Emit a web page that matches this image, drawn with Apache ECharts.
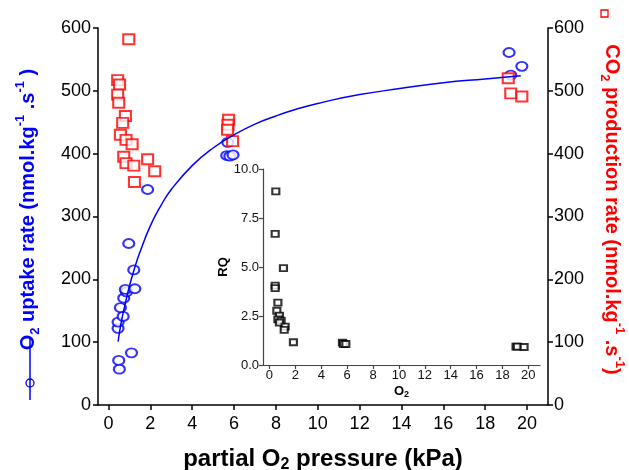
<!DOCTYPE html>
<html>
<head>
<meta charset="utf-8">
<script src="https://cdn.jsdelivr.net/npm/echarts@6/dist/echarts.min.js"></script>
<style>
  html, body { margin: 0; padding: 0; background: #fff; }
  #chart { width: 629px; height: 470px; }
</style>
</head>
<body>
<div id="chart"></div>
<script>
// main panel: partial O2 pressure (kPa) vs rates
const o2Pressure = [0.52, 0.49, 1.10, 0.46, 0.46, 0.70, 0.57, 0.73, 0.86, 0.81, 1.26, 1.21, 0.97, 1.87, 5.70, 5.65, 5.80, 5.95, 19.14, 19.75, 19.22]
const o2Uptake = [57, 71, 83, 122, 132, 141, 155, 170, 180, 184, 185, 215, 257, 343, 418, 397, 396, 398, 561, 539, 525]

const co2Pressure = [0.97, 0.44, 0.53, 0.44, 0.49, 0.81, 0.68, 0.57, 0.84, 1.13, 0.73, 0.84, 1.21, 1.87, 2.21, 1.24, 5.74, 5.71, 5.69, 5.93, 19.10, 19.22, 19.75]
const co2Production = [582, 517, 510, 494, 481, 460, 449, 430, 422, 415, 395, 385, 381, 391, 372, 355, 454, 446, 438, 420, 520, 496, 491]

// fitted curve
const fitX = [0.46, 0.6, 0.8, 1.0, 1.25, 1.5, 2.0, 2.5, 3.0, 4.0, 5.0, 6.0, 7.0, 8.0, 9.0, 10.0, 12.0, 14.0, 16.0, 18.0, 19.7]
const fitY = [101, 130, 161, 189, 218, 243, 285, 317, 343, 381, 409, 430, 447, 460, 471, 480, 494, 504, 513, 519, 524]

// inset: RQ vs O2
const rqPressure = [0.49, 0.44, 1.08, 0.44, 0.44, 0.65, 0.57, 0.77, 0.65, 0.90, 0.77, 1.21, 1.14, 1.85, 5.64, 5.72, 5.90, 19.05, 19.15, 19.67]
const rqValues = [8.86, 6.69, 4.94, 4.05, 3.92, 3.18, 2.77, 2.52, 2.33, 2.26, 2.16, 1.96, 1.79, 1.16, 1.14, 1.07, 1.07, 0.94, 0.94, 0.92]

const xTicks = [0, 2, 4, 6, 8, 10, 12, 14, 16, 18, 20]

const zip = (a, b) => a.map((v, i) => [v, b[i]])

const FONT = 'Liberation Sans, Arial, sans-serif'
const BLUE = '#0000ff'
const RED = '#ff0000'

const nameRich = (color, size) => ({
  b: { fontSize: size, fontWeight: 'bold', color, fontFamily: FONT, lineHeight: 28 },
  s: { fontSize: Math.round(size * 0.65), fontWeight: 'bold', color, fontFamily: FONT, lineHeight: 28, verticalAlign: 'bottom' },
  p: { fontSize: Math.round(size * 0.65), fontWeight: 'bold', color, fontFamily: FONT, lineHeight: 28, verticalAlign: 'top' },
})

const mainAxisLine = { lineStyle: { color: '#000', width: 1.5 } }
const mainTick = { inside: false, length: 5, lineStyle: { color: '#000', width: 1.5 } }
const mainLabel = { color: '#000', fontSize: 18, fontFamily: FONT }

const insetAxisLine = { onZero: false, lineStyle: { color: '#444', width: 1.2 } }
const insetTick = { length: 4, lineStyle: { color: '#444', width: 1.2 } }
const insetLabel = { color: '#111', fontSize: 13, fontFamily: FONT, margin: 4 }

const chart = echarts.init(document.getElementById('chart'))

chart.setOption({
  backgroundColor: '#fff',
  animation: false,
  grid: [
    { left: 98, right: 81, top: 28, bottom: 65, outerBoundsMode: 'none' },
    { left: 263, right: 89, top: 169, bottom: 105, outerBoundsMode: 'none', show: true, backgroundColor: '#fff', borderWidth: 0 },
  ],
  xAxis: [
    {
      gridIndex: 0, type: 'value', min: -0.5, max: 21,
      axisLine: { ...mainAxisLine, onZero: false },
      axisTick: { ...mainTick, customValues: xTicks },
      axisLabel: { ...mainLabel, margin: 10, customValues: xTicks },
      splitLine: { show: false },
      name: '{b|partial O}{s|2}{b| pressure (kPa)}',
      nameLocation: 'middle', nameGap: 40,
      nameTextStyle: { rich: nameRich('#000', 24) },
    },
    {
      gridIndex: 1, type: 'value', min: -0.5, max: 20.9,
      axisLine: insetAxisLine,
      axisTick: { ...insetTick, customValues: xTicks },
      axisLabel: { ...insetLabel, customValues: xTicks },
      splitLine: { show: false },
      name: '{b|O}{s|2}',
      nameLocation: 'middle', nameGap: 18,
      nameTextStyle: {
        rich: {
          b: { fontSize: 13, fontWeight: 'bold', color: '#000', fontFamily: FONT, lineHeight: 16 },
          s: { fontSize: 9, fontWeight: 'bold', color: '#000', fontFamily: FONT, lineHeight: 16, verticalAlign: 'bottom' },
        },
      },
    },
  ],
  yAxis: [
    {
      gridIndex: 0, type: 'value', min: 0, max: 600, interval: 100, position: 'left',
      axisLine: { ...mainAxisLine, show: true, onZero: false },
      axisTick: { ...mainTick, show: true },
      axisLabel: { ...mainLabel, margin: 7 },
      splitLine: { show: false },
      name: '{b|O}{s|2}{b| uptake rate (nmol.kg}{p|-1}{b| .s}{p|-1}{b| )}',
      nameLocation: 'middle', nameGap: 56, nameRotate: 90,
      nameTextStyle: { rich: nameRich(BLUE, 20), padding: [0, 0, 0, 14] },
    },
    {
      gridIndex: 0, type: 'value', min: 0, max: 600, interval: 100, position: 'right',
      axisLine: { ...mainAxisLine, show: true, onZero: false },
      axisTick: { ...mainTick, show: true },
      axisLabel: { ...mainLabel, margin: 6 },
      splitLine: { show: false },
      name: '{b|CO}{s|2}{b| production rate (nmol.kg}{p|-1}{b| .s}{p|-1}{b|)}',
      nameLocation: 'middle', nameGap: 50, nameRotate: -90,
      nameTextStyle: { rich: nameRich(RED, 20), padding: [0, 14, 0, 0] },
    },
    {
      gridIndex: 1, type: 'value', min: 0, max: 10, interval: 2.5,
      axisLine: { ...insetAxisLine, show: true },
      axisTick: { ...insetTick, show: true },
      axisLabel: { ...insetLabel, formatter: (v) => v.toFixed(1) },
      splitLine: { show: false },
      name: 'RQ',
      nameLocation: 'middle', nameGap: 24, nameRotate: 90,
      nameTextStyle: { fontSize: 13, fontWeight: 'bold', color: '#000', fontFamily: FONT },
    },
  ],
  graphic: [
    { type: 'line', shape: { x1: 30, y1: 337, x2: 30, y2: 400 }, style: { stroke: BLUE, lineWidth: 1.5 } },
    { type: 'circle', shape: { cx: 30, cy: 383, r: 4 }, style: { stroke: BLUE, fill: 'none', lineWidth: 1.3 } },
    { type: 'rect', shape: { x: 601, y: 10, width: 7, height: 7 }, style: { stroke: RED, fill: 'none', lineWidth: 1.3 } },
  ],
  series: [
    {
      name: 'fit', type: 'line', xAxisIndex: 0, yAxisIndex: 0,
      data: zip(fitX, fitY), smooth: true, showSymbol: false,
      lineStyle: { color: BLUE, width: 1.5 },
    },
    {
      name: 'O2 uptake', type: 'scatter', xAxisIndex: 0, yAxisIndex: 0,
      data: zip(o2Pressure, o2Uptake), symbol: 'emptyCircle', symbolSize: [11, 9],
      itemStyle: { color: BLUE, borderColor: BLUE, borderWidth: 1.5 },
    },
    {
      name: 'CO2 production', type: 'scatter', xAxisIndex: 0, yAxisIndex: 1,
      data: zip(co2Pressure, co2Production), symbol: 'emptyRect', symbolSize: [11, 10],
      itemStyle: { color: RED, borderColor: RED, borderWidth: 1.5 },
    },
    {
      name: 'RQ', type: 'scatter', xAxisIndex: 1, yAxisIndex: 2,
      data: zip(rqPressure, rqValues), symbol: 'emptyRect', symbolSize: [7, 6],
      itemStyle: { color: '#000', borderColor: '#000', borderWidth: 1 },
    },
  ],
})
</script>
</body>
</html>
